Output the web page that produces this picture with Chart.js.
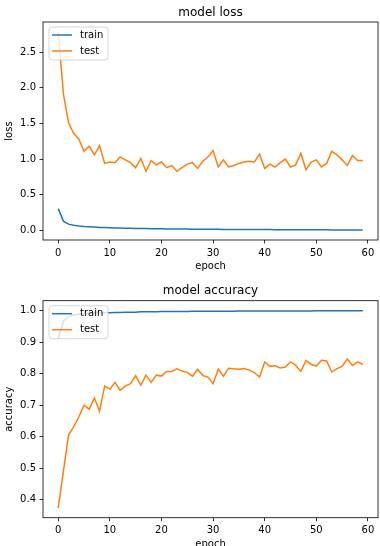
<!DOCTYPE html>
<html>
<head>
<meta charset="utf-8">
<script src="https://cdn.jsdelivr.net/npm/chart.js@4/dist/chart.umd.min.js"></script>
<style>
html,body{margin:0;padding:0;background:#fff;width:380px;height:546px;overflow:hidden;position:relative;}
canvas{position:absolute;left:0;}
#c1{top:0;}
#c2{top:273px;}
</style>
</head>
<body>
<canvas id="c1" width="380" height="285"></canvas>
<canvas id="c2" width="380" height="285"></canvas>
<script>
const epochs = Array.from({length: 60}, (_, i) => i);
const xTickValues = [0, 10, 20, 30, 40, 50, 60];
const lossTickValues = [0.0, 0.5, 1.0, 1.5, 2.0, 2.5];
const accTickValues = [0.4, 0.5, 0.6, 0.7, 0.8, 0.9, 1.0];
const seriesNames = ['train', 'test'];

const trainLoss = [0.305, 0.13, 0.088, 0.072, 0.062, 0.055, 0.050, 0.046, 0.042, 0.039,
  0.036, 0.034, 0.032, 0.030, 0.029, 0.027, 0.026, 0.025, 0.024, 0.023,
  0.022, 0.021, 0.020, 0.019, 0.019, 0.018, 0.017, 0.017, 0.016, 0.016,
  0.015, 0.015, 0.014, 0.014, 0.013, 0.013, 0.012, 0.012, 0.012, 0.011,
  0.011, 0.011, 0.010, 0.010, 0.010, 0.009, 0.009, 0.009, 0.009, 0.008,
  0.008, 0.008, 0.008, 0.007, 0.007, 0.007, 0.007, 0.007, 0.006, 0.006];
const testLoss = [2.79, 1.92, 1.51, 1.36, 1.28, 1.11, 1.18, 1.06, 1.19, 0.94,
  0.96, 0.95, 1.03, 0.99, 0.95, 0.88, 1.01, 0.83, 0.98, 0.92,
  0.96, 0.88, 0.91, 0.83, 0.88, 0.93, 0.95, 0.87, 0.97, 1.03,
  1.12, 0.89, 0.99, 0.89, 0.91, 0.94, 0.96, 0.97, 0.96, 1.07,
  0.87, 0.93, 0.89, 0.95, 1.00, 0.89, 0.92, 1.08, 0.85, 0.96,
  0.99, 0.89, 0.94, 1.11, 1.06, 0.99, 0.91, 1.05, 0.98, 0.98];
const trainAcc = [0.91, 0.966, 0.981, 0.986, 0.988, 0.990, 0.991, 0.992, 0.992, 0.993,
  0.993, 0.994, 0.994, 0.995, 0.995, 0.995, 0.996, 0.996, 0.996, 0.996,
  0.997, 0.997, 0.997, 0.997, 0.997, 0.997, 0.998, 0.998, 0.998, 0.998,
  0.998, 0.998, 0.998, 0.998, 0.998, 0.999, 0.999, 0.999, 0.999, 0.999,
  0.999, 0.999, 0.999, 0.999, 0.999, 0.999, 0.999, 0.999, 0.999, 0.999,
  0.9995, 0.9995, 0.9995, 0.9995, 0.9995, 0.9995, 0.9995, 0.9995, 0.9995, 0.9995];
const testAcc = [0.374, 0.49, 0.605, 0.632, 0.663, 0.700, 0.687, 0.723, 0.681, 0.761,
  0.750, 0.772, 0.747, 0.760, 0.768, 0.793, 0.763, 0.795, 0.772, 0.795,
  0.792, 0.807, 0.807, 0.815, 0.808, 0.804, 0.792, 0.814, 0.794, 0.789,
  0.768, 0.814, 0.792, 0.817, 0.815, 0.814, 0.816, 0.811, 0.803, 0.789,
  0.837, 0.823, 0.825, 0.818, 0.821, 0.837, 0.826, 0.807, 0.842, 0.829,
  0.824, 0.842, 0.840, 0.805, 0.816, 0.823, 0.846, 0.826, 0.837, 0.829];

const COLORS = ['#1f77b4', '#ff7f0e'];
const FONT = "'DejaVu Sans', 'Liberation Sans', sans-serif";
Chart.defaults.font.family = FONT;
Chart.defaults.font.size = 10;
Chart.defaults.color = '#000';

const decorPlugin = {
  id: 'decor',
  afterDatasetsDraw(chart, args, opts) {
    const ctx = chart.ctx, ca = chart.chartArea;
    ctx.save();
    // frame
    ctx.strokeStyle = '#000';
    ctx.lineWidth = 0.8;
    ctx.strokeRect(ca.left, ca.top, ca.right - ca.left, ca.bottom - ca.top);
    // legend
    const bx = ca.left + 6, by = ca.top + 5, bw = 59, bh = 33, r = 3;
    ctx.beginPath();
    ctx.moveTo(bx + r, by);
    ctx.arcTo(bx + bw, by, bx + bw, by + bh, r);
    ctx.arcTo(bx + bw, by + bh, bx, by + bh, r);
    ctx.arcTo(bx, by + bh, bx, by, r);
    ctx.arcTo(bx, by, bx + bw, by, r);
    ctx.closePath();
    ctx.fillStyle = 'rgba(255,255,255,0.8)';
    ctx.fill();
    ctx.strokeStyle = 'rgba(204,204,204,0.8)';
    ctx.lineWidth = 1;
    ctx.stroke();
    ctx.font = '10px ' + FONT;
    ctx.textBaseline = 'middle';
    ctx.textAlign = 'left';
    seriesNames.forEach((name, i) => {
      const yy = by + 8 + i * 16;
      ctx.strokeStyle = COLORS[i];
      ctx.lineWidth = 1.5;
      ctx.beginPath();
      ctx.moveTo(ca.left + 9, yy);
      ctx.lineTo(ca.left + 29, yy);
      ctx.stroke();
      ctx.fillStyle = '#000';
      ctx.fillText(name, ca.left + 37, yy);
    });
    // title
    ctx.font = '12px ' + FONT;
    ctx.textAlign = 'center';
    ctx.fillStyle = '#000';
    ctx.fillText(opts.text, (ca.left + ca.right) / 2, ca.top - 9.5);
    ctx.restore();
  }
};

function axisGrid() {
  return {display: true, drawOnChartArea: false, drawTicks: true, tickLength: 3.5,
    tickWidth: 0.8, tickColor: '#000', color: 'rgba(0,0,0,0)'};
}

function makeChart(id, title, yTitle, train, test, yMin, yMax, yTicks, padTop, xHeight, xTitlePad) {
  return new Chart(document.getElementById(id), {
    type: 'line',
    data: {
      datasets: [
        {label: seriesNames[0], data: epochs.map((e, i) => ({x: e, y: train[i]})),
          borderColor: COLORS[0], borderWidth: 1.5, pointRadius: 0, tension: 0, order: 2},
        {label: seriesNames[1], data: epochs.map((e, i) => ({x: e, y: test[i]})),
          borderColor: COLORS[1], borderWidth: 1.5, pointRadius: 0, tension: 0, order: 1}
      ]
    },
    options: {
      responsive: false,
      animation: false,
      devicePixelRatio: 1,
      layout: {padding: {top: padTop, right: 2, left: 0, bottom: 0}},
      plugins: {legend: {display: false}, tooltip: {enabled: false}, decor: {text: title}},
      scales: {
        x: {
          type: 'linear', min: -2.95, max: 61.95,
          afterBuildTicks: s => { s.ticks = xTickValues.map(v => ({value: v})); },
          afterFit: s => { s.height = xHeight; },
          grid: axisGrid(),
          border: {display: false},
          ticks: {padding: 3.5, maxRotation: 0, autoSkip: false, color: '#000', font: {size: 10}},
          title: {display: true, text: 'epoch', color: '#000', font: {size: 10}, padding: {top: 0, bottom: xTitlePad}}
        },
        y: {
          type: 'linear', min: yMin, max: yMax,
          afterBuildTicks: s => { s.ticks = yTicks.map(v => ({value: v})); },
          afterFit: s => { s.width = 43; },
          grid: axisGrid(),
          border: {display: false},
          ticks: {padding: 3.5, color: '#000', font: {size: 10}, callback: v => Number(v).toFixed(1)},
          title: {display: true, text: yTitle, color: '#000', font: {size: 10}, padding: {top: 3.4, bottom: 0}}
        }
      }
    },
    plugins: [decorPlugin]
  });
}

makeChart('c1', 'model loss', 'loss', trainLoss, testLoss, -0.135, 2.925, lossTickValues, 22, 45, 13);
makeChart('c2', 'model accuracy', 'accuracy', trainAcc, testAcc, 0.3427, 1.0313, accTickValues, 27.7, 40.3, 8);
</script>
</body>
</html>
